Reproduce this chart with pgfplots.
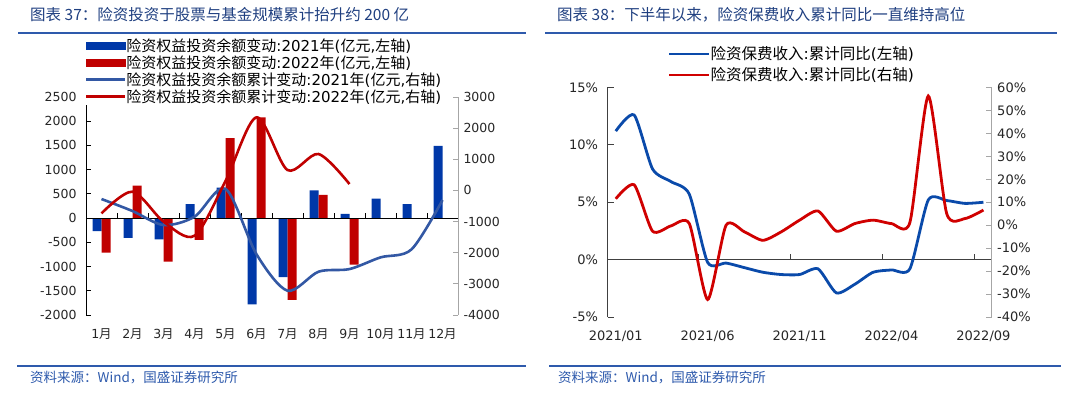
\documentclass[border=0pt]{standalone}
\usepackage{fontspec}
\setmainfont{DejaVu Sans}
\newfontfamily\cjk{Noto Sans CJK SC}
\usepackage{pgfplots}
\pgfplotsset{compat=1.18}
\definecolor{barblue}{HTML}{0038A8}
\definecolor{barred}{HTML}{C00000}
\definecolor{lineblue}{HTML}{3358A4}
\definecolor{linered}{HTML}{C00000}
\definecolor{titleblue}{HTML}{1F3F80}
\definecolor{rulecol}{HTML}{2E5AAC}
\definecolor{rblue}{HTML}{0A4AAA}
\definecolor{rred}{HTML}{D00000}
\definecolor{axgray}{HTML}{A6A6A6}
\newcommand{\yue}{{\cjk 月}}
\begin{document}
\begin{tikzpicture}
\path[use as bounding box] (0bp,0bp) rectangle (1080bp,398bp);
\coordinate (LA) at (86bp,83bp);
\coordinate (RA) at (607.5bp,81bp);
% titles and rules
\node[anchor=west,inner sep=0,text=titleblue,font=\cjk\fontsize{15.5bp}{18bp}\selectfont] at (30bp,383bp) {图表 37：险资投资于股票与基金规模累计抬升约 200 亿};
\node[anchor=west,inner sep=0,text=titleblue,font=\cjk\fontsize{15.5bp}{18bp}\selectfont] at (557bp,383bp) {图表 38：下半年以来，险资保费收入累计同比一直维持高位};
\draw[rulecol,line width=2.2bp] (18bp,365bp)--(526bp,365bp);
\draw[rulecol,line width=2.2bp] (545bp,365bp)--(1057bp,365bp);
\draw[rulecol,line width=2.2bp] (17bp,32bp)--(526bp,32bp);
\draw[rulecol,line width=2.2bp] (549bp,32bp)--(1061bp,32bp);
\node[anchor=west,inner sep=0,text=rulecol,font=\cjk\fontsize{13.5bp}{16bp}\selectfont] at (30bp,20bp) {资料来源：Wind，国盛证券研究所};
\node[anchor=west,inner sep=0,text=rulecol,font=\cjk\fontsize{13.5bp}{16bp}\selectfont] at (558bp,20bp) {资料来源：Wind，国盛证券研究所};

% ---------- left panel, left axis (bars)
\begin{axis}[
  at={(LA)}, anchor=south west, scale only axis, width=372bp, height=218bp,
  xmin=0.5, xmax=12.5, ymin=-2000, ymax=2500,
  axis x line=middle, axis y line=left, axis on top,
  axis line style={-, black, line width=0.8bp},
  xtick={1.5,2.5,...,11.5}, xticklabels={},
  extra x ticks={1,2,...,12},
  extra x tick labels={1\yue,2\yue,3\yue,4\yue,5\yue,6\yue,7\yue,8\yue,9\yue,10\yue,11\yue,12\yue},
  extra x tick style={major tick length=0pt, xticklabel style={yshift=-107bp}},
  ytick={-2000,-1500,...,2500},
  yticklabels={-2000,-1500,-1000,-500,0,500,1000,1500,2000,2500},
  tick align=inside, major tick length=5bp, tick style={black, line width=0.8bp},
  ticklabel style={font=\fontsize{12.5bp}{14bp}\selectfont, text=black!85},
  yticklabel style={xshift=-6bp},
]
\addplot[ybar, bar width=9bp, bar shift=-4.5bp, fill=barblue, draw=none] coordinates
 {(1,-270) (2,-410) (3,-440) (4,290) (5,630) (6,-1780) (7,-1220) (8,570) (9,90) (10,400) (11,290) (12,1490)};
\addplot[ybar, bar width=9bp, bar shift=4.5bp, fill=barred, draw=none] coordinates
 {(1,-710) (2,670) (3,-900) (4,-450) (5,1650) (6,2080) (7,-1690) (8,480) (9,-960)};
\end{axis}

% ---------- left panel, right axis (lines)
\begin{axis}[
  at={(LA)}, anchor=south west, scale only axis, width=372bp, height=218bp,
  xmin=0.5, xmax=12.5, ymin=-4000, ymax=3000,
  axis x line=none, axis y line*=right,
  y axis line style={-, axgray, line width=0.8bp},
  ytick={-4000,-3000,...,3000},
  yticklabels={-4000,-3000,-2000,-1000,0,1000,2000,3000},
  tick align=inside, major tick length=5bp, ytick style={axgray, line width=0.8bp},
  yticklabel style={font=\fontsize{12.5bp}{14bp}\selectfont, text=black!85, xshift=2bp},
  legend style={at={(-0.002,1.275)}, anchor=north west, draw=none, fill=white,
    inner sep=0pt, outer sep=0pt, row sep=0pt,
    font=\fontsize{15bp}{17bp}\selectfont,
    nodes={inner sep=0pt, minimum height=17bp}},
  legend cell align=left,
  /tikz/every even column/.append style={column sep=5bp},
]
\addlegendimage{legend image code/.code={\fill[barblue] (0bp,-3.5bp) rectangle (39bp,3.5bp);}}
\addlegendentry{{\cjk 险资权益投资余额变动}:2021{\cjk 年}({\cjk 亿元},{\cjk 左轴})}
\addlegendimage{legend image code/.code={\fill[barred] (0bp,-3.5bp) rectangle (39bp,3.5bp);}}
\addlegendentry{{\cjk 险资权益投资余额变动}:2022{\cjk 年}({\cjk 亿元},{\cjk 左轴})}
\addplot[lineblue, line width=2.6bp, smooth, tension=0.5,
  legend image code/.code={\draw[lineblue,line width=2.2bp] (0bp,0bp)--(39bp,0bp);}] coordinates
 {(1,-276) (2,-662) (3,-1111) (4,-845) (5,50) (6,-2050) (7,-3220) (8,-2610) (9,-2525) (10,-2150) (11,-1893) (12,-310)};
\addlegendentry{{\cjk 险资权益投资余额累计变动}:2021{\cjk 年}({\cjk 亿元},{\cjk 右轴})}
\addplot[linered, line width=2.6bp, smooth, tension=0.5,
  legend image code/.code={\draw[linered,line width=2.2bp] (0bp,0bp)--(39bp,0bp);}] coordinates
 {(1,-736) (2,-40) (3,-1000) (4,-1455) (5,300) (6,2347) (7,655) (8,1169) (9,205)};
\addlegendentry{{\cjk 险资权益投资余额累计变动}:2022{\cjk 年}({\cjk 亿元},{\cjk 右轴})}
\end{axis}

% ---------- right panel, left axis
\begin{axis}[
  at={(RA)}, anchor=south west, scale only axis, width=384.2bp, height=229.5bp,
  xmin=-0.45, xmax=20.45, ymin=-5, ymax=15,
  axis x line=middle, axis y line=left,
  axis line style={-, black!75, line width=0.8bp},
  xtick={4.5,9.5,14.5,19.5}, xticklabels={},
  extra x ticks={0,5,10,15,20},
  extra x tick labels={2021/01,2021/06,2021/11,2022/04,2022/09},
  extra x tick style={major tick length=0pt, xticklabel style={yshift=-68bp}},
  ytick={-5,0,5,10,15},
  yticklabels={-5\%,0\%,5\%,10\%,15\%},
  tick align=inside, major tick length=6bp, tick style={black!75, line width=0.8bp},
  ticklabel style={font=\fontsize{13bp}{15bp}\selectfont, text=black!85},
  yticklabel style={xshift=-6bp},
]
\addplot[rblue, line width=2.8bp, smooth, tension=0.4] coordinates
 {(0,11.2) (1,12.6) (2,7.9) (3,6.8) (4,5.7) (5,-0.25) (6,-0.3) (7,-0.7) (8,-1.1) (9,-1.3) (10,-1.3) (11,-0.8) (12,-2.9) (13,-2.15) (14,-1.1) (15,-0.9) (16,-0.8) (17,5.2) (18,5.15) (19,4.9) (20,5.0)};
\end{axis}

% ---------- right panel, right axis
\begin{axis}[
  at={(RA)}, anchor=south west, scale only axis, width=384.2bp, height=229.5bp,
  xmin=-0.45, xmax=20.45, ymin=-40, ymax=60,
  axis x line=none, axis y line*=right,
  y axis line style={-, axgray, line width=0.8bp},
  ytick={-40,-30,...,60},
  yticklabels={-40\%,-30\%,-20\%,-10\%,0\%,10\%,20\%,30\%,40\%,50\%,60\%},
  tick align=inside, major tick length=6bp, ytick style={axgray, line width=0.8bp},
  yticklabel style={font=\fontsize{13bp}{15bp}\selectfont, text=black!85, xshift=2bp},
  legend style={at={(0.1575,1.192)}, anchor=north west, draw=none, fill=white,
    inner sep=0pt, outer sep=0pt, row sep=0pt,
    font=\fontsize{15.5bp}{18bp}\selectfont,
    nodes={inner sep=0pt, minimum height=21bp}},
  legend cell align=left,
  /tikz/every even column/.append style={column sep=4bp},
]
\addlegendimage{legend image code/.code={\draw[rblue,line width=2.6bp] (0bp,0bp)--(40bp,0bp);}}
\addlegendentry{{\cjk 险资保费收入}:{\cjk 累计同比}({\cjk 左轴})}
\addplot[rred, line width=2.8bp, smooth, tension=0.4,
  legend image code/.code={\draw[rred,line width=2.6bp] (0bp,0bp)--(40bp,0bp);}] coordinates
 {(0,11.5) (1,17.6) (2,-2.6) (3,-0.3) (4,0.7) (5,-32.4) (6,0) (7,-2.9) (8,-6.6) (9,-2.9) (10,2.2) (11,6.2) (12,-2.6) (13,0.7) (14,2.2) (15,0.7) (16,1.2) (17,56.3) (18,5.1) (19,2.9) (20,6.6)};
\addlegendentry{{\cjk 险资保费收入}:{\cjk 累计同比}({\cjk 右轴})}
\end{axis}
\end{tikzpicture}
\end{document}
